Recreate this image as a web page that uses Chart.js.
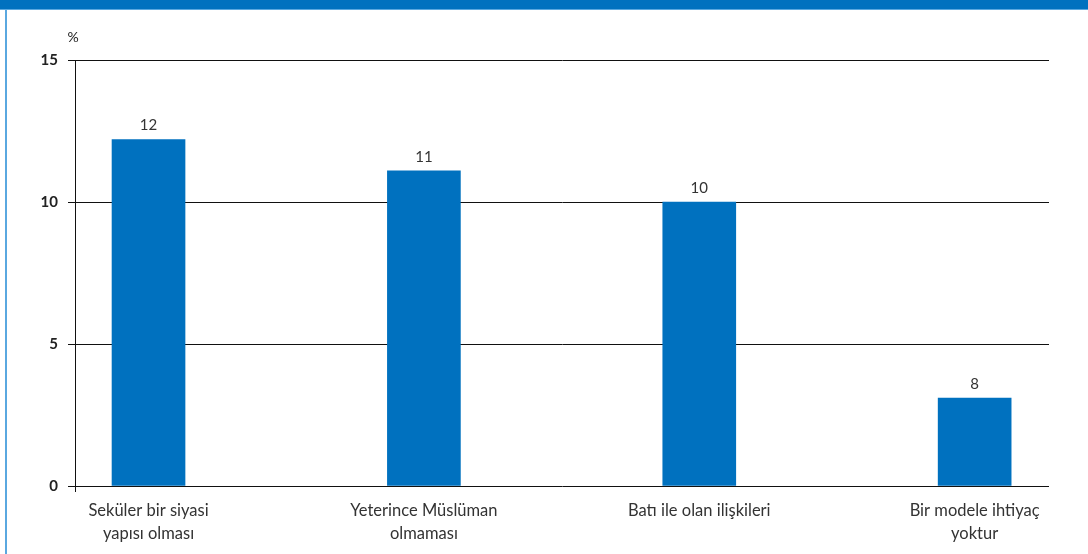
<!DOCTYPE html>
<html>
<head>
<meta charset="utf-8">
<script src="https://cdn.jsdelivr.net/npm/chart.js@4/dist/chart.umd.min.js"></script>
<style>
  html, body { margin: 0; padding: 0; background: #fff; }
  #wrap { position: relative; width: 1088px; height: 554px; overflow: hidden; }
  #band { position: absolute; left: 0; top: 0; width: 1088px; height: 9px; background: #0071bf; border-bottom: 1px solid #5aa8e0; }
  #edge { position: absolute; left: 5px; top: 10px; width: 2px; height: 544px; background: #5aa8e0; }
  canvas { position: absolute; left: 0; top: 0; }
</style>
</head>
<body>
<div id="wrap">
  <canvas id="chart" width="1088" height="554"></canvas>
  <div id="band"></div>
  <div id="edge"></div>
</div>
<script>
// --- data ---
const categories = [
  ['Seküler bir siyasi', 'yapısı olması'],
  ['Yeterince Müslüman', 'olmaması'],
  ['Batı ile olan ilişkileri'],
  ['Bir modele ihtiyaç', 'yoktur']
];
const values = [12.2, 11.1, 10, 3.1];
const valueLabels = ['12', '11', '10', '8'];
const yTicks = [0, 5, 10, 15];

const FONT = 'Lato, "Open Sans", sans-serif';
const BLUE = '#0071bf';

// --- labels above bars, % unit, axis stub ---
const extras = {
  id: 'extras',
  afterDatasetsDraw(chart) {
    const ctx = chart.ctx;
    const meta = chart.getDatasetMeta(0);
    ctx.save();
    ctx.fillStyle = '#333';
    ctx.font = '15px ' + FONT;
    ctx.textAlign = 'center';
    ctx.textBaseline = 'middle';
    meta.data.forEach((bar, i) => {
      ctx.fillText(valueLabels[i], bar.x, bar.y - 14);
    });
    const area = chart.chartArea;
    ctx.font = '14px ' + FONT;
    ctx.fillStyle = '#222';
    ctx.fillText('%', area.left - 2, area.top - 23);
    // y axis continues a little below zero
    ctx.strokeStyle = '#111';
    ctx.lineWidth = 1;
    ctx.beginPath();
    ctx.moveTo(area.left + 0.5, area.bottom);
    ctx.lineTo(area.left + 0.5, area.bottom + 6);
    ctx.stroke();
    ctx.restore();
  }
};

const initChart = () => {
  const ctx = document.getElementById('chart');
  new Chart(ctx, {
    type: 'bar',
    data: {
      datasets: [{
        data: values.map((v, i) => ({ x: i, y: v })),
        backgroundColor: BLUE,
        barThickness: 73
      }]
    },
    options: {
      responsive: false,
      animation: false,
      layout: { padding: { top: 60, right: 39, bottom: 0, left: 0 } },
      plugins: { legend: { display: false }, tooltip: { enabled: false } },
      scales: {
        x: {
          type: 'linear',
          offset: false,
          min: -0.267,
          max: 3.27,
          afterBuildTicks: (scale) => { scale.ticks = categories.map((c, i) => ({ value: i })); },
          afterFit: (scale) => { scale.height = 68; },
          grid: { display: false },
          border: { display: false },
          ticks: {
            autoSkip: false,
            maxRotation: 0,
            padding: 6,
            color: '#333',
            font: { family: FONT, size: 16.5, lineHeight: 1.35 },
            callback: (v) => categories[v]
          }
        },
        y: {
          min: 0,
          max: 15,
          afterBuildTicks: (scale) => { scale.ticks = yTicks.map(v => ({ value: v })); },
          afterFit: (scale) => { scale.width = 75; },
          grid: { color: '#111', lineWidth: 1, tickLength: 7, drawTicks: true },
          border: { display: true, color: '#111', width: 1 },
          ticks: {
            padding: 10,
            color: '#222',
            font: { family: FONT, size: 15, weight: 'bold' }
          }
        }
      }
    },
    plugins: [extras]
  });
};

document.addEventListener('DOMContentLoaded', initChart);
</script>
</body>
</html>
